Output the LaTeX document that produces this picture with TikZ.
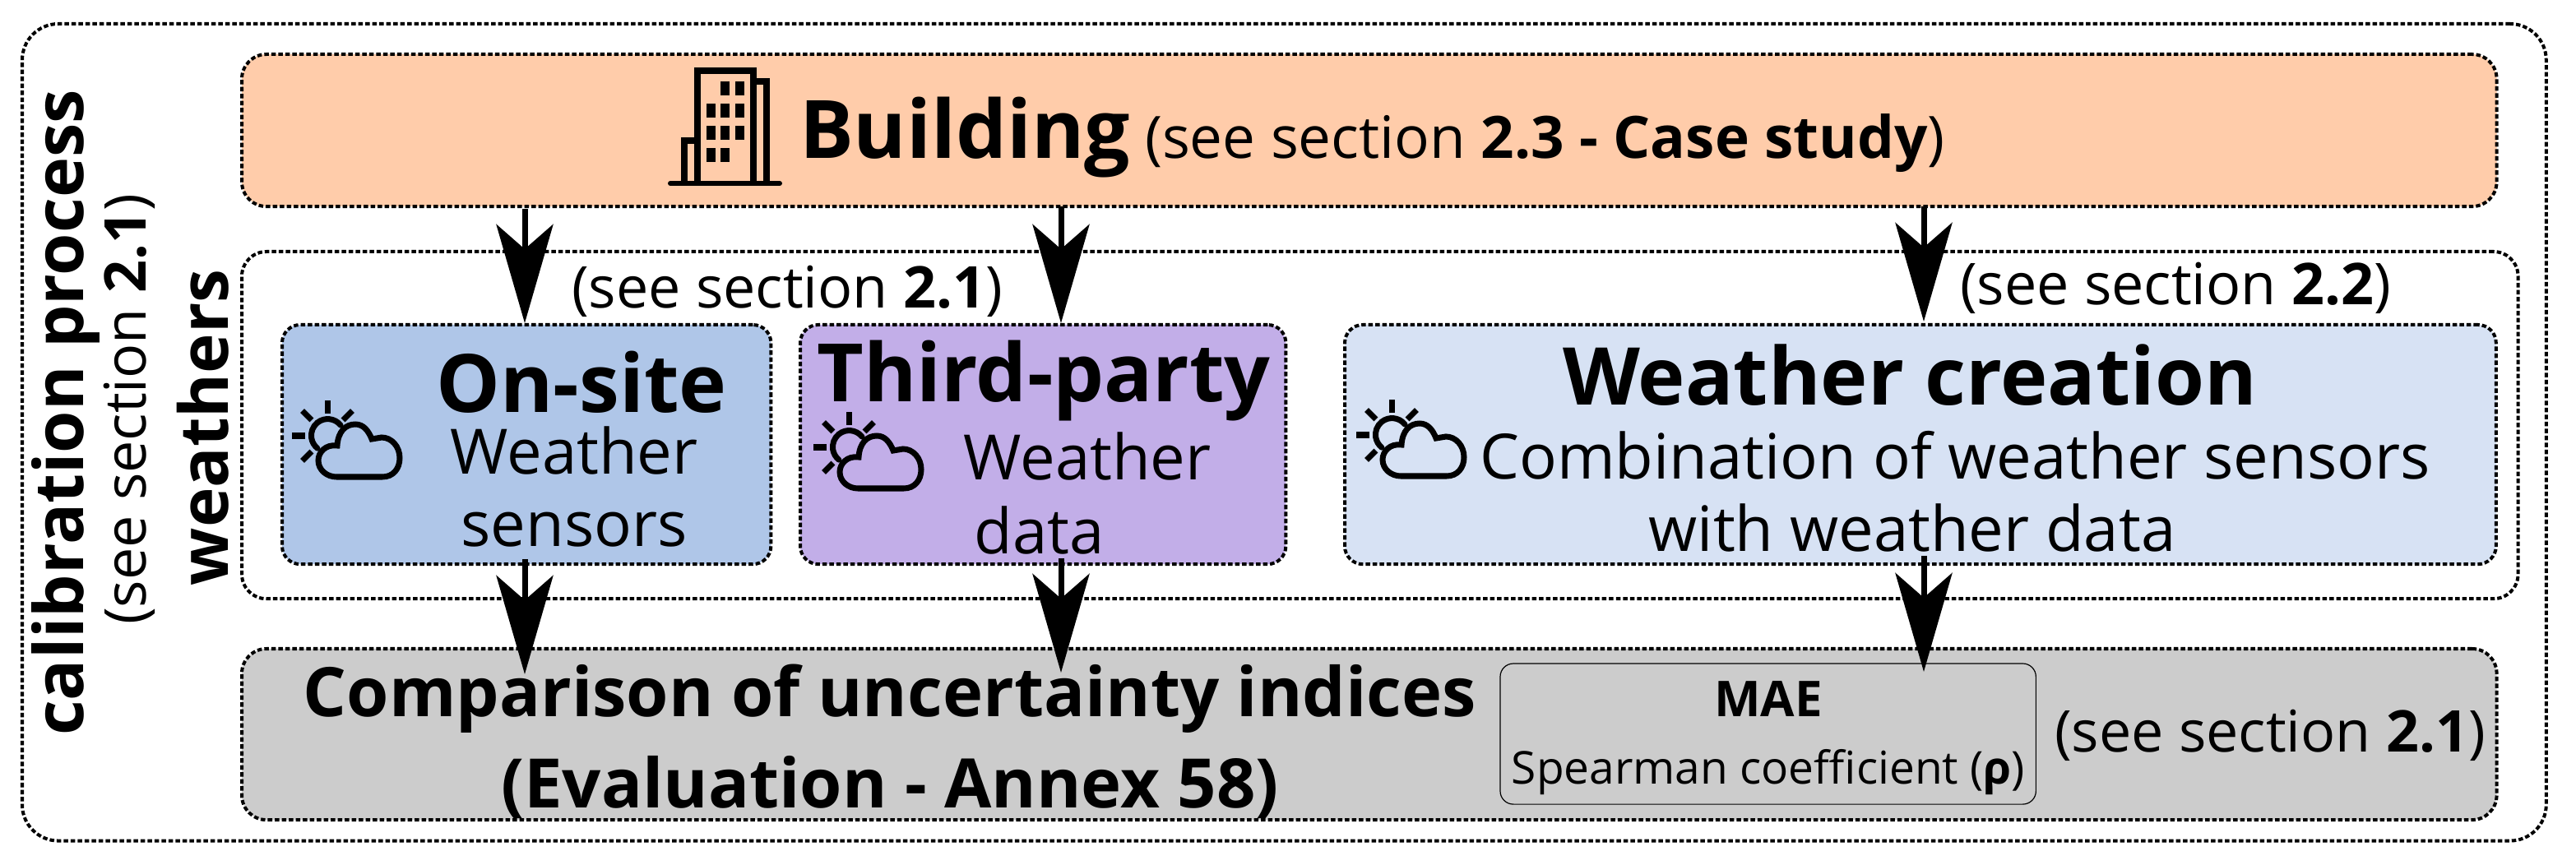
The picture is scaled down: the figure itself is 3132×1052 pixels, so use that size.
\documentclass[tikz,border=0pt]{standalone}
\usepackage{fontspec}
\setmainfont{Open Sans}[BoldFont={Open Sans Bold}]
\usetikzlibrary{arrows.meta, positioning, calc}
\definecolor{buildingfill}{RGB}{255,204,170}
\definecolor{onsitefill}{RGB}{175,198,232}
\definecolor{thirdfill}{RGB}{194,174,232}
\definecolor{creationfill}{RGB}{215,226,244}
\definecolor{evalfill}{RGB}{204,204,204}
\newcommand{\pxfont}[1]{\fontsize{\the\dimexpr 0.2845pt*#1\relax}{\the\dimexpr 0.32pt*#1\relax}\selectfont}
\tikzset{
  panel/.style={rectangle, draw, line width=0.04cm, dash pattern=on 0.055cm off 0.03cm, rounded corners=0.3cm, inner sep=0pt, outer sep=0pt},
  flow/.style={-{Stealth[length=1.2cm, width=0.69cm, inset=0.3cm]}, line width=0.07cm},
  label/.style={inner sep=0pt, outer sep=0pt, align=center},
  icon/.style={line width=0.07cm, line cap=round},
  weathericon/.pic={
    % sun
    \draw[icon] (16,-13) arc (-39:-231:20);
    \foreach \a in {90,135,180,225,45}
      \draw[icon, line cap=butt] (\a:27 and -27) -- (\a:43 and -43);
    % cloud
    \draw[icon] (11,50) -- (67,50)
      .. controls (80,50) and (88,40) .. (88,27)
      .. controls (88,13) and (78,2) .. (66,2) -- (54,4)
      .. controls (50,-6) and (44,-14) .. (34,-14)
      .. controls (22,-14) and (13,-5) .. (12,12)
      .. controls (-2,10) and (-11,20) .. (-11,30)
      .. controls (-11,42) and (0,50) .. (11,50) -- cycle;
  },
}
\begin{document}
\begin{tikzpicture}[x=0.01cm, y=-0.01cm]
  \useasboundingbox (0,0) rectangle (3132,1052);

  % Outer frame
  \node[panel, rounded corners=0.44cm, minimum width=30.67cm, minimum height=9.93cm, anchor=north west] (process) at (27,29) {};
  \node[label, rotate=90, font=\bfseries\pxfont{83}] (calibration) at (80,502) {calibration process};
  \node[label, rotate=90, font=\pxfont{70}] (seeprocess) at (157,498) {(see section \textbf{2.1})};

  % Building
  \node[panel, fill=buildingfill, minimum width=27.4cm, minimum height=1.85cm, anchor=north west] (building) at (294,66) {};
  \node[label, anchor=base west, font=\bfseries\pxfont{98}] (buildingname) at (972,193) {Building};
  \node[label, anchor=base west, font=\pxfont{71}] (buildingsee) at (1392,193) {(see section \textbf{2.3 - Case study})};

  % Building icon
  \draw[line width=0.08cm] (848,223) -- (848,86) -- (916,86) -- (916,223);
  \draw[line width=0.08cm] (916,99) -- (932,99) -- (932,223);
  \draw[line width=0.08cm] (844,171) -- (832,171) -- (832,223);
  \draw[line width=0.06cm, line cap=round] (815,223) -- (948,223);
  \foreach \x/\y in {876/99, 894/99, 859/126, 876/126, 894/126, 859/153, 876/153, 894/153, 859/180, 876/180}
    \fill (\x,\y) rectangle ++(11,17);

  % Weathers
  \node[panel, minimum width=27.66cm, minimum height=4.22cm, anchor=north west] (weathers) at (294,306) {};
  \node[label, rotate=90, font=\bfseries\pxfont{82}] (weathersname) at (247,520) {weathers};
  \node[label, font=\pxfont{70}] (seeleft) at (957,354) {(see section \textbf{2.1})};
  \node[label, font=\pxfont{70}] (seeright) at (2645,350) {(see section \textbf{2.2})};

  % On-site
  \node[panel, rounded corners=0.22cm, fill=onsitefill, minimum width=5.94cm, minimum height=2.91cm, anchor=north west] (onsite) at (343,395) {};
  \node[label, font=\bfseries\pxfont{98}] (onsitename) at (707,465) {On-site};
  \node[label, font=\pxfont{76}] (onsitetext) at (698,592) {Weather\\[0.02cm]sensors};
  \pic at (398,530) {weathericon};

  % Third-party
  \node[panel, rounded corners=0.22cm, fill=thirdfill, minimum width=5.9cm, minimum height=2.91cm, anchor=north west] (third) at (973,395) {};
  \node[label, font=\bfseries\pxfont{98}] (thirdname) at (1269,463) {Third-party};
  \node[label, font=\pxfont{76}] (thirdtext) at (1322,600) {Weather\\[0.04cm]data\hspace*{1.16cm}};
  \pic at (1032,544) {weathericon};

  % Weather creation
  \node[panel, rounded corners=0.22cm, fill=creationfill, minimum width=13.99cm, minimum height=2.91cm, anchor=north west] (creation) at (1635,395) {};
  \node[label, font=\bfseries\pxfont{97}] (creationname) at (2322,456) {Weather creation};
  \node[label, font=\pxfont{76}] (creationtext) at (2377,598) {Combination of weather sensors\\[0.02cm]with weather data\hspace*{1.04cm}};
  \pic at (1692,529) {weathericon};

  % Comparison
  \node[panel, fill=evalfill, minimum width=27.4cm, minimum height=2.08cm, anchor=north west] (evaluation) at (294,789) {};
  \node[label, font=\bfseries\pxfont{83}] (evaluationtext) at (1082,902) {Comparison of uncertainty indices\\[0.17cm](Evaluation - Annex 58)};
  \node[rectangle, draw, line width=0.012cm, rounded corners=0.16cm, inner sep=0pt, outer sep=0pt, minimum width=6.51cm, minimum height=1.71cm, anchor=north west] (indices) at (1824,807) {};
  \node[label, font=\pxfont{55}] (indicestext) at (2150,898) {\textbf{\pxfont{60}MAE}\\[0.2cm]Spearman coefficient (\textbf{ρ})};
  \node[label, font=\pxfont{70}] (seeeval) at (2760,894) {(see section \textbf{2.1})};

  % Arrows
  \coordinate (onsitein) at (638,393);
  \coordinate (thirdin) at (1290,393);
  \coordinate (creationin) at (2339,391);
  \coordinate (onsiteout) at (638,680);
  \coordinate (thirdout) at (1290,679);
  \coordinate (creationout) at (2339,676);
  \coordinate (onsiteend) at (638,820);
  \coordinate (thirdend) at (1290,818);
  \coordinate (creationend) at (2339,817);
  \draw[flow, shorten <=0.03cm] (building.south -| onsitein) -- (onsitein);
  \draw[flow] (building.south -| thirdin) -- (thirdin);
  \draw[flow] (building.south -| creationin) -- (creationin);
  \draw[flow] (onsiteout) -- (onsiteend);
  \draw[flow] (thirdout) -- (thirdend);
  \draw[flow] (creationout) -- (creationend);
\end{tikzpicture}
\end{document}
